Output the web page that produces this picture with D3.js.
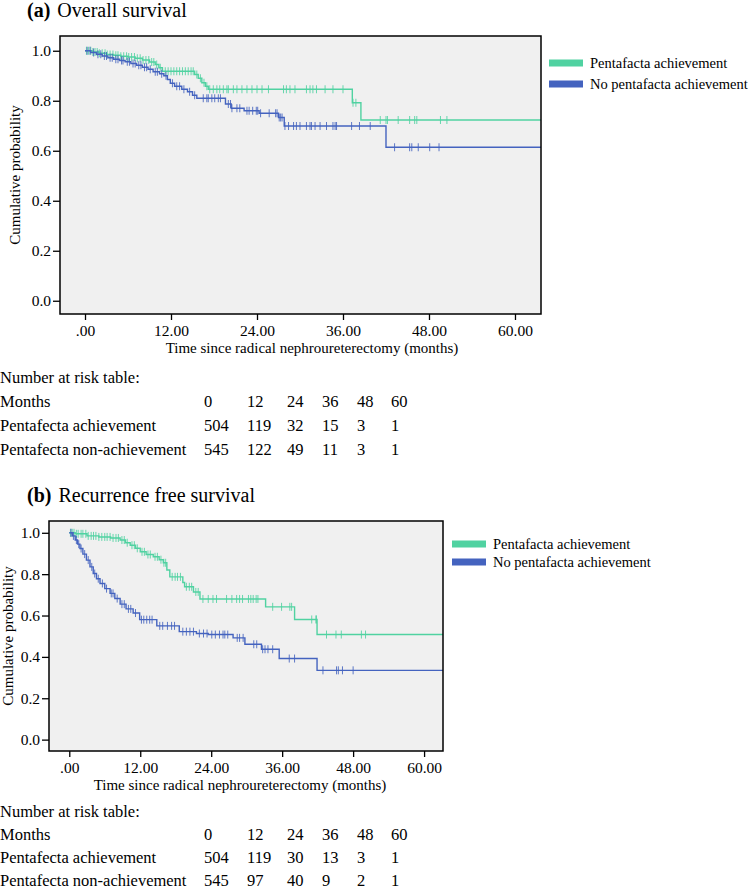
<!DOCTYPE html>
<html>
<head>
<meta charset="utf-8">
<script src="https://cdn.jsdelivr.net/npm/d3@7/dist/d3.min.js"></script>
<style>
body{margin:0;background:#fff}
</style>
</head>
<body>
<svg width="750" height="889"></svg>
<script>
// shared labels
var xTicks=[0,12,24,36,48,60];
var yTicks=[0,0.2,0.4,0.6,0.8,1.0];
var legendNames=["Pentafacta achievement","No pentafacta achievement"];
var riskLabels=["Pentafecta achievement","Pentafecta non-achievement"];
var riskMonths=[0,12,24,36,48,60];
var colors=["#50d2a1","#4463bf"];

// (a) overall survival - KM steps [month, survival], censor months
var osAchSteps=[[0,1],[1,0.995],[2,0.99],[3,0.985],[4,0.982],[5,0.978],[6,0.975],[7,0.97],[8,0.963],[9,0.955],[9.8,0.945],[10.3,0.932],[10.8,0.918],[15.3,0.905],[15.8,0.89],[16.3,0.872],[16.8,0.858],[17.2,0.846],[37.3,0.792],[38.5,0.723]];
var osAchCens=[0.2,0.5,0.8,1.1,1.4,1.7,2.0,2.4,2.8,3.1,3.5,3.9,4.3,4.6,5.0,5.4,5.8,6.1,6.5,6.9,7.3,7.7,8.1,8.5,8.9,9.3,9.6,10.0,10.5,11.2,11.6,12.0,12.4,12.8,13.2,13.6,14.0,14.4,14.8,15.1,15.6,16.1,16.6,17.0,17.4,17.9,18.4,18.8,19.3,19.8,20.0,20.7,21.2,21.9,22.6,23.3,24.0,24.7,25.6,27.7,28.1,28.6,29.3,30.9,31.4,31.8,32.3,33.5,34.6,36.0,37.4,37.8,41.2,42.0,42.2,43.7,45.3,46.0,46.3,49.6,50.5];
var osNoSteps=[[0,1],[0.8,0.993],[1.6,0.986],[2.4,0.979],[3.2,0.972],[4.0,0.966],[4.8,0.961],[5.6,0.956],[6.4,0.949],[7.2,0.942],[8.0,0.934],[8.8,0.926],[9.5,0.916],[10.4,0.908],[11.0,0.9],[11.5,0.885],[11.9,0.87],[12.5,0.858],[13.5,0.846],[14.3,0.836],[15.0,0.822],[15.6,0.81],[19.6,0.787],[20.4,0.77],[22.2,0.76],[24.3,0.75],[27.0,0.733],[27.8,0.699],[42.0,0.614]];
var osNoCens=[0.3,0.7,1.2,1.8,2.2,2.7,3.0,3.5,3.8,4.3,4.6,5.1,5.3,5.9,6.2,6.7,7.0,7.5,7.8,8.3,8.6,9.1,9.8,10.1,10.7,11.3,12.2,12.8,13.2,13.8,14.6,15.3,16.5,17.0,17.2,17.7,18.1,18.6,18.9,20.0,20.3,20.5,21.2,21.6,22.6,22.9,23.4,23.9,24.1,24.5,25.7,26.6,26.8,27.1,27.3,27.5,27.9,28.4,29.1,29.5,30.0,30.9,31.4,31.6,32.1,32.8,33.7,34.6,34.9,35.1,37.2,38.3,39.8,43.2,45.3,45.6,46.5,48.1,49.4];
var osRiskAch=[504,119,32,15,3,1];
var osRiskNo=[545,122,49,11,3,1];

// (b) recurrence free survival
var rfsAchSteps=[[0,1],[1,0.995],[3,0.985],[5,0.98],[7,0.975],[8.6,0.965],[9.5,0.952],[10.3,0.94],[11.2,0.925],[12,0.908],[13,0.895],[14.2,0.884],[15.2,0.87],[15.9,0.855],[16.5,0.82],[17,0.787],[19.2,0.76],[19.5,0.739],[21,0.714],[22.1,0.68],[33.2,0.642],[38.1,0.581],[41.9,0.508]];
var rfsAchCens=[0.2,0.5,0.8,1.2,1.5,2.0,2.3,2.8,3.2,3.7,4.1,4.5,5.0,5.5,6.0,6.4,6.9,7.4,7.9,8.3,8.9,9.3,9.8,10.6,11.0,11.5,12.3,12.7,13.3,13.7,14.5,14.9,15.5,16.0,16.3,17.4,17.9,18.3,18.8,19.8,20.3,20.7,21.4,21.8,22.6,23.5,24.3,24.9,26.6,27.5,28.3,28.8,29.3,30.3,30.7,31.1,31.6,31.9,34.4,35.9,37.3,37.6,41.0,41.7,41.8,43.5,45.1,46.0,49.4,50.1];
var rfsNoSteps=[[0,1],[0.5,0.985],[1.0,0.965],[1.4,0.945],[1.8,0.924],[2.3,0.897],[2.9,0.868],[3.5,0.835],[4.05,0.803],[4.6,0.778],[5.2,0.755],[6.0,0.73],[6.9,0.707],[7.7,0.682],[8.6,0.655],[9.6,0.632],[10.8,0.612],[11.9,0.58],[14.8,0.55],[18.6,0.522],[21.5,0.513],[23.5,0.508],[27.7,0.492],[29.7,0.461],[32.5,0.437],[35.5,0.392],[41.9,0.335]];
var rfsNoCens=[0.3,0.7,1.2,1.6,2.0,2.6,3.2,3.8,4.3,4.9,5.6,6.3,7.1,7.4,8.1,8.9,9.3,10.0,10.4,11.2,12.2,12.6,13.1,13.6,14.0,15.3,15.8,16.6,17.3,17.8,19.2,19.8,20.4,21.0,22.0,22.7,23.3,24.1,24.7,25.4,26.0,26.3,26.8,28.4,28.8,29.4,31.2,31.7,32.7,33.1,33.6,34.4,37.2,38.1,42.9,45.2,45.5,46.2,48.0];
var rfsRiskAch=[504,119,30,13,3,1];
var rfsRiskNo=[545,97,40,9,2,1];

var svg=d3.select('svg');

var panels=[
  {tag:'(a)',title:'Overall survival',titleY:17,
   l:60,t:36,r:541,b:314,xDom:[-3.49,63.63],yDom:[-0.053,1.059],
   steps:[osAchSteps,osNoSteps],cens:[osAchCens,osNoCens],risk:[osRiskAch,osRiskNo],
   xLabY:336,xTitleY:353,xTitleX:312,yTitleX:20,
   legX:549,legY:[63,84],tableY:[383,407,431,455]},
  {tag:'(b)',title:'Recurrence free survival',titleY:502,
   l:49,t:521,r:443,b:751,xDom:[-3.43,63.2],yDom:[-0.055,1.057],
   steps:[rfsAchSteps,rfsNoSteps],cens:[rfsAchCens,rfsNoCens],risk:[rfsRiskAch,rfsRiskNo],
   xLabY:773,xTitleY:790,xTitleX:240,yTitleX:13,
   legX:452,legY:[544,562],tableY:[817,840,863,886]}
];
var colX=[204,247,287,322,357,391];

panels.forEach(function(p,pi){
  var x=d3.scaleLinear().domain(p.xDom).range([p.l,p.r]);
  var y=d3.scaleLinear().domain(p.yDom).range([p.b,p.t]);
  var g=svg.append('g');

  var tt=g.append('text').attr('x',27).attr('y',p.titleY).attr('font-size',20);
  tt.append('tspan').attr('font-weight','bold').text(p.tag);
  tt.append('tspan').attr('dx',7).text(p.title);

  g.append('rect').attr('x',p.l).attr('y',p.t).attr('width',p.r-p.l).attr('height',p.b-p.t)
    .attr('fill','#f0f0f0');

  var cid='clip'+pi;
  g.append('clipPath').attr('id',cid).append('rect')
    .attr('x',p.l).attr('y',p.t).attr('width',p.r-p.l).attr('height',p.b-p.t);
  var plot=g.append('g').attr('clip-path','url(#'+cid+')');

  var line=d3.line().x(function(d){return x(d[0]);}).y(function(d){return y(d[1]);}).curve(d3.curveStepAfter);
  var bis=d3.bisector(function(d){return d[0];}).right;

  p.steps.forEach(function(st,k){
    var last=st[st.length-1][1];
    var pts=st.concat([[p.xDom[1],last]]);
    plot.append('path').attr('d',line(pts)).attr('fill','none')
      .attr('stroke',colors[k]).attr('stroke-width',1.4);
    plot.selectAll('line.c'+k).data(p.cens[k]).enter().append('line')
      .attr('x1',function(d){return x(d);}).attr('x2',function(d){return x(d);})
      .attr('y1',function(d){return y(st[bis(st,d)-1][1])-4;})
      .attr('y2',function(d){return y(st[bis(st,d)-1][1])+4;})
      .attr('stroke',colors[k]).attr('stroke-width',1).attr('opacity',0.85);
  });

  g.append('rect').attr('x',p.l).attr('y',p.t).attr('width',p.r-p.l).attr('height',p.b-p.t)
    .attr('fill','none').attr('stroke','#000').attr('stroke-width',1.5);

  // y axis
  var ya=d3.axisLeft(y).tickValues(yTicks).tickFormat(d3.format('.1f')).tickSize(7).tickPadding(2);
  var yg=g.append('g').attr('transform','translate('+p.l+',0)').call(ya);
  yg.select('.domain').remove();
  yg.selectAll('line').attr('stroke','#000').attr('stroke-width',1.3);
  yg.selectAll('text').attr('font-size',15.5);

  // x axis
  var xa=d3.axisBottom(x).tickValues(xTicks).tickSize(6)
    .tickFormat(function(d){return d===0?'.00':d3.format('.2f')(d);});
  var xg=g.append('g').attr('transform','translate(0,'+p.b+')').call(xa);
  xg.select('.domain').remove();
  xg.selectAll('line').attr('stroke','#000').attr('stroke-width',1.3);
  xg.selectAll('text').attr('font-size',15.5).attr('dy',null).attr('y',p.xLabY-p.b);

  g.append('text').attr('x',p.xTitleX).attr('y',p.xTitleY).attr('text-anchor','middle')
    .attr('font-size',15).text('Time since radical nephroureterectomy (months)');
  g.append('text').attr('transform','translate('+p.yTitleX+','+((p.t+p.b)/2)+') rotate(-90)')
    .attr('text-anchor','middle').attr('font-size',15).text('Cumulative probability');

  // legend
  legendNames.forEach(function(name,k){
    g.append('rect').attr('x',p.legX).attr('y',p.legY[k]-3.5).attr('width',34).attr('height',7).attr('fill',colors[k]);
    g.append('text').attr('x',p.legX+41).attr('y',p.legY[k]+5).attr('font-size',14.5).text(name);
  });

  // number at risk table
  g.append('text').attr('x',0).attr('y',p.tableY[0]).attr('font-size',16.5).text('Number at risk table:');
  g.append('text').attr('x',0).attr('y',p.tableY[1]).attr('font-size',16.5).text('Months');
  riskMonths.forEach(function(m,i){
    g.append('text').attr('x',colX[i]).attr('y',p.tableY[1]).attr('font-size',16.5).text(m);
  });
  riskLabels.forEach(function(lab,k){
    g.append('text').attr('x',0).attr('y',p.tableY[2+k]).attr('font-size',16.5).text(lab);
    p.risk[k].forEach(function(v,i){
      g.append('text').attr('x',colX[i]).attr('y',p.tableY[2+k]).attr('font-size',16.5).text(v);
    });
  });
});

svg.selectAll('text').style('font-family','Liberation Serif').style('fill','#000');
</script>
</body>
</html>
